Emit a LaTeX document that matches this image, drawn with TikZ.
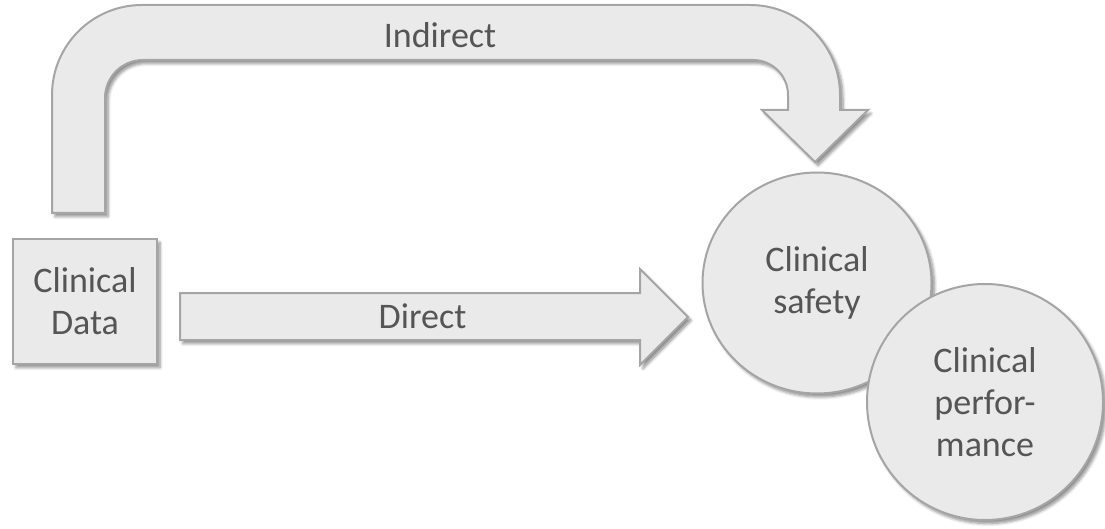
\documentclass[tikz,border=0pt]{standalone}
\usepackage{fontspec}
\setmainfont{Carlito}
\usetikzlibrary{shapes.geometric,shadows.blur}
\definecolor{shapefill}{HTML}{EAEAEA}
\definecolor{shapeline}{HTML}{A5A5A5}
\definecolor{labeltext}{HTML}{555555}
\tikzset{
  panel/.style={fill=shapefill, draw=shapeline, line width=2pt,
    blur shadow={shadow xshift=3pt, shadow yshift=-3.5pt,
      shadow blur radius=3pt, shadow blur steps=6, shadow opacity=45}},
  lbl/.style={text=labeltext, font=\fontsize{36}{42}\selectfont,
    align=center, inner sep=0pt},
}
\begin{document}
\begin{tikzpicture}[x=1pt,y=-1pt]
\useasboundingbox (0,0) rectangle (1105,529);

% bent block arrow over the top
\path[panel] (52,213) -- (52,95)
  arc[start angle=180, end angle=270, radius=90] -- (750,5)
  arc[start angle=270, end angle=360, radius=90] -- (840,110)
  -- (868,110) -- (815,162) -- (762,110) -- (788,110) -- (788,95)
  arc[start angle=0, end angle=-90, radius=35] -- (143,60)
  arc[start angle=-90, end angle=-180, radius=38] -- (105,213) -- cycle;

% straight block arrow
\path[panel] (180,293) -- (640,293) -- (640,269) -- (688,317)
  -- (640,365) -- (640,340) -- (180,340) -- cycle;

% source box
\node[panel, lbl, minimum width=144pt, minimum height=125pt]
  (data) at (85,301.5) {Clinical\\Data};

% outcome circles
\node[panel, lbl, ellipse, minimum width=229pt, minimum height=221pt]
  (safety) at (817,283) {Clinical\\safety};
\node[panel, lbl, ellipse, minimum width=236pt, minimum height=236pt]
  (perf) at (985,402) {Clinical\\perfor-\\mance};

% arrow labels
\node[lbl, anchor=base] (indirect) at (440,48) {Indirect};
\node[lbl, anchor=base] (direct) at (422.5,328) {Direct};
\end{tikzpicture}
\end{document}
